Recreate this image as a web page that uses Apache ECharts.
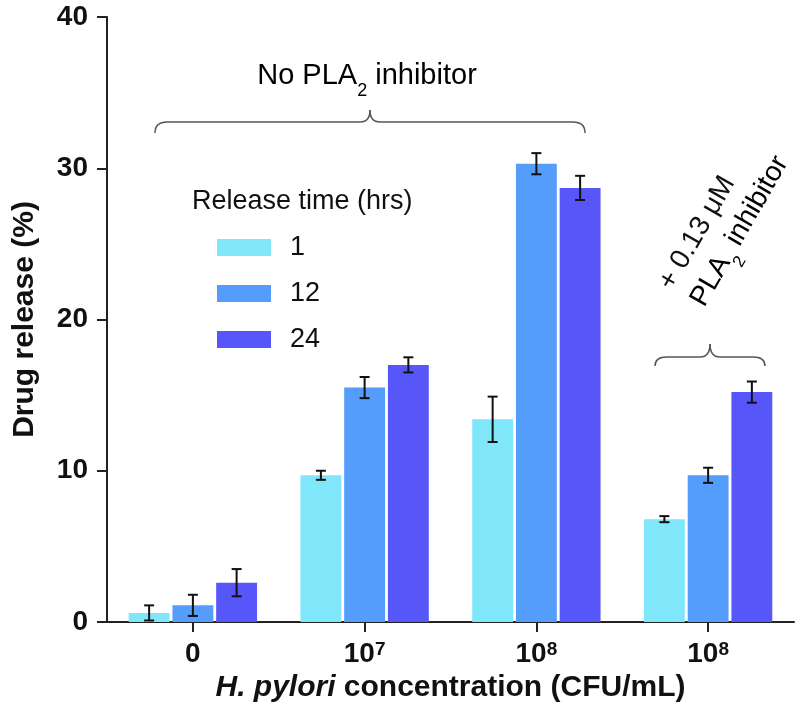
<!DOCTYPE html>
<html>
<head>
<meta charset="utf-8">
<script src="https://cdn.jsdelivr.net/npm/echarts@6/dist/echarts.min.js"></script>
<style>html,body{margin:0;padding:0;background:#fff}#c{width:800px;height:714px}</style>
</head>
<body>
<div id="c"></div>
<script>
// ---- data ----
const categories = ['0', '1e7', '1e8', '1e8 + PLA2 inhibitor'];
const xTickLabels = ['{n|0}', '{n|10}{s|7}', '{n|10}{s|8}', '{n|10}{s|8}'];
const seriesNames = ['1', '12', '24'];
const mean1h  = [0.6, 9.7, 13.4, 6.8];
const err1h   = [0.5, 0.3, 1.5, 0.2];
const mean12h = [1.1, 15.5, 30.3, 9.7];
const err12h  = [0.7, 0.7, 0.7, 0.5];
const mean24h = [2.6, 17.0, 28.7, 15.2];
const err24h  = [0.9, 0.5, 0.8, 0.7];
const yTicks = [0, 10, 20, 30, 40];

const colors = ['#7FE7F9', '#559DFA', '#5656F9'];
const FONT = '"Liberation Sans", Arial, Helvetica, sans-serif';
const BAR_W = 0.238, BAR_GAP = 0.07;

const means = [mean1h, mean12h, mean24h];
const errs = [err1h, err12h, err24h];

const chart = echarts.init(document.getElementById('c'), null, {renderer: 'canvas'});

const barSeries = means.map((m, k) => ({
  name: seriesNames[k],
  type: 'bar',
  data: m,
  barWidth: (BAR_W * 100) + '%',
  barGap: (BAR_GAP * 100) + '%',
  itemStyle: {color: colors[k]},
  z: 2
}));

const errSeries = means.map((m, k) => ({
  type: 'custom',
  name: 'err' + k,
  data: m.map((v, i) => [i, v - errs[k][i], v + errs[k][i]]),
  encode: {x: 0, y: [1, 2]},
  z: 5,
  silent: true,
  renderItem: function (params, api) {
    const idx = api.value(0);
    const band = api.size([1, 0])[0];
    const off = (k - 1) * band * BAR_W * (1 + BAR_GAP);
    const lo = api.coord([idx, api.value(1)]);
    const hi = api.coord([idx, api.value(2)]);
    const x = lo[0] + off;
    const cap = 5;
    const st = {stroke: '#111', lineWidth: 2};
    return {
      type: 'group',
      children: [
        {type: 'line', shape: {x1: x, y1: lo[1], x2: x, y2: hi[1]}, style: st},
        {type: 'line', shape: {x1: x - cap, y1: lo[1], x2: x + cap, y2: lo[1]}, style: st},
        {type: 'line', shape: {x1: x - cap, y1: hi[1], x2: x + cap, y2: hi[1]}, style: st}
      ]
    };
  }
}));

function brace(x1, x2, yEnd, yLine, yPeak) {
  const mid = (x1 + x2) / 2;
  const r = 12, r2 = 10;
  const st = {fill: null, stroke: '#555', lineWidth: 1.5};
  const q = (ax, ay, cx, cy, bx, by) => ({type: 'bezierCurve', shape: {x1: ax, y1: ay, cpx1: cx, cpy1: cy, x2: bx, y2: by}, style: st});
  const l = (ax, ay, bx, by) => ({type: 'line', shape: {x1: ax, y1: ay, x2: bx, y2: by}, style: st});
  return {
    type: 'group',
    children: [
      q(x1, yEnd, x1, yLine, x1 + r, yLine),
      l(x1 + r, yLine, mid - r2, yLine),
      q(mid - r2, yLine, mid, yLine, mid, yPeak),
      q(mid, yPeak, mid, yLine, mid + r2, yLine),
      l(mid + r2, yLine, x2 - r, yLine),
      q(x2 - r, yLine, x2, yLine, x2, yEnd)
    ]
  };
}

function subRich(size) {
  return {
    n: {fontSize: size, fontFamily: FONT, color: '#111', verticalAlign: 'top', lineHeight: size + 3},
    s: {fontSize: Math.round(size * 0.62), fontFamily: FONT, color: '#111', verticalAlign: 'top', padding: [Math.round(size * 0.74), 0, 0, 0], lineHeight: Math.round(size * 0.66)}
  };
}

const option = {
  animation: false,
  backgroundColor: '#fff',
  textStyle: {fontFamily: FONT},
  grid: {left: 107, right: 6, top: 17, bottom: 92, containLabel: false},
  legend: {
    data: seriesNames,
    orient: 'vertical',
    left: 217,
    top: 234,
    padding: 0,
    icon: 'rect',
    itemWidth: 54,
    itemHeight: 17,
    itemGap: 19,
    textStyle: {fontSize: 27, color: '#111', fontFamily: FONT, padding: [0, 0, 0, 14]}
  },
  xAxis: {
    type: 'category',
    data: categories,
    axisLine: {lineStyle: {color: '#222', width: 2}},
    axisTick: {show: true, alignWithLabel: true, length: 10, lineStyle: {color: '#222', width: 2}},
    axisLabel: {
      margin: 18,
      formatter: function (v, i) { return xTickLabels[i]; },
      rich: {
        n: {fontSize: 28, fontWeight: 'bold', fontFamily: FONT, color: '#111', verticalAlign: 'top', lineHeight: 30},
        s: {fontSize: 19, fontWeight: 'bold', fontFamily: FONT, color: '#111', verticalAlign: 'top', lineHeight: 18}
      }
    },
    name: '{i|H. pylori} concentration (CFU/mL)',
    nameLocation: 'middle',
    nameGap: 51,
    nameTextStyle: {
      fontSize: 30, fontWeight: 'bold', color: '#111', fontFamily: FONT,
      rich: {i: {fontSize: 30, fontWeight: 'bold', fontStyle: 'italic', color: '#111', fontFamily: FONT}}
    }
  },
  yAxis: {
    type: 'value',
    min: yTicks[0],
    max: yTicks[yTicks.length - 1],
    interval: 10,
    splitLine: {show: false},
    axisLine: {show: true, lineStyle: {color: '#222', width: 2}},
    axisTick: {show: true, length: 10, lineStyle: {color: '#222', width: 2}},
    axisLabel: {margin: 19, fontSize: 28, fontWeight: 'bold', color: '#111', fontFamily: FONT},
    name: 'Drug release (%)',
    nameLocation: 'middle',
    nameGap: 67,
    nameTextStyle: {fontSize: 30, fontWeight: 'bold', color: '#111', fontFamily: FONT}
  },
  series: barSeries.concat(errSeries),
  graphic: [
    {type: 'text', left: 192, top: 188,
      style: {text: 'Release time (hrs)', fontSize: 27, fontFamily: FONT, fill: '#111'}},
    {type: 'text', x: 367, y: 61,
      style: {text: '{n|No PLA}{s|2}{n| inhibitor}', rich: subRich(29), align: 'center', verticalAlign: 'top'}},
    brace(155, 585, 133, 122, 110),
    brace(655, 765, 366, 357, 344),
    {type: 'text', x: 697, y: 233, rotation: Math.PI / 3,
      style: {text: '+ 0.13 μM', fontSize: 28, fontFamily: FONT, fill: '#111', align: 'center', verticalAlign: 'middle'}},
    {type: 'text', x: 741, y: 232, rotation: Math.PI / 3,
      style: {text: '{n|PLA}{s|2}{n| inhibitor}', rich: subRich(28), align: 'center', verticalAlign: 'middle'}}
  ]
};
chart.setOption(option);
</script>
</body>
</html>
